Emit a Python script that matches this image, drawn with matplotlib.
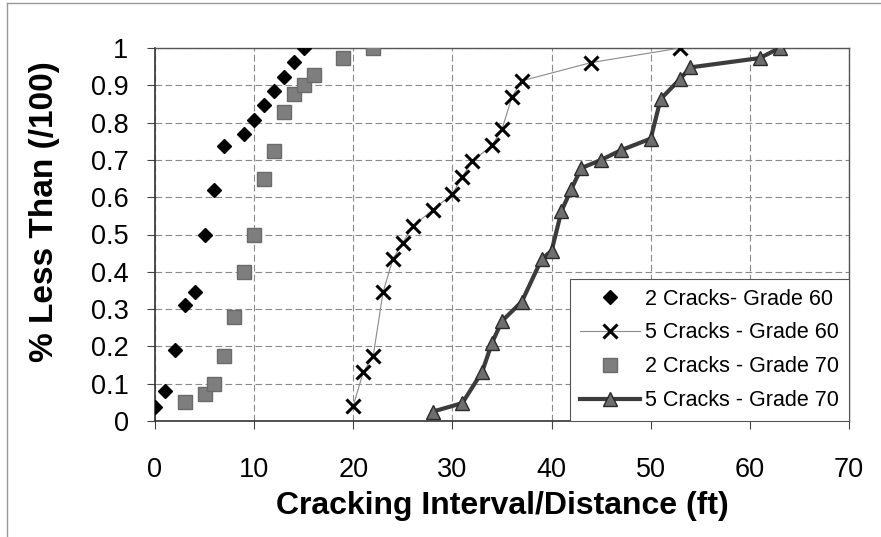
import matplotlib
matplotlib.use("Agg")
import matplotlib.pyplot as plt
from matplotlib.lines import Line2D

plt.rcParams['font.family'] = ['Liberation Sans', 'DejaVu Sans']

# --- data ---
g60_2_x = [0, 1, 2, 3, 4, 5, 6, 7, 9, 10, 11, 12, 13, 14, 15]
g60_2_y = [0.037, 0.08, 0.19, 0.31, 0.345, 0.50, 0.618, 0.736, 0.77, 0.806,
           0.847, 0.885, 0.921, 0.963, 1.0]

g60_5_x = [20, 21, 22, 23, 24, 25, 26, 28, 30, 31, 32, 34, 35, 36, 37, 44, 53]
g60_5_y = [0.041, 0.131, 0.173, 0.345, 0.435, 0.478, 0.522, 0.566, 0.608,
           0.655, 0.697, 0.739, 0.782, 0.869, 0.912, 0.961, 1.0]

g70_2_x = [3, 5, 6, 7, 8, 9, 10, 11, 12, 13, 14, 15, 16, 19, 22]
g70_2_y = [0.052, 0.073, 0.10, 0.173, 0.279, 0.399, 0.498, 0.65, 0.723,
           0.829, 0.876, 0.90, 0.927, 0.974, 1.0]

g70_5_x = [28, 31, 33, 34, 35, 37, 39, 40, 41, 42, 43, 45, 47, 50, 51, 53, 54, 61, 63]
g70_5_y = [0.025, 0.048, 0.132, 0.21, 0.268, 0.32, 0.434, 0.456, 0.563, 0.622,
           0.678, 0.70, 0.726, 0.757, 0.863, 0.918, 0.948, 0.973, 1.0]

labels = ["2 Cracks- Grade 60", "5 Cracks - Grade 60",
          "2 Cracks - Grade 70", "5 Cracks - Grade 70"]
x_ticks = [0, 10, 20, 30, 40, 50, 60, 70]
y_ticks = [0, 0.1, 0.2, 0.3, 0.4, 0.5, 0.6, 0.7, 0.8, 0.9, 1.0]
y_ticklabels = ["0", "0.1", "0.2", "0.3", "0.4", "0.5", "0.6", "0.7", "0.8", "0.9", "1"]

fig = plt.figure(figsize=(8.81, 5.37), dpi=100)
ax = fig.add_axes([155/881, 1 - 421/537, (849-155)/881, (421-48)/537])

ax.plot(g60_2_x, g60_2_y, linestyle='none', marker='D', ms=7.5,
        color='black', label=labels[0], zorder=4)
ax.plot(g60_5_x, g60_5_y, linestyle='-', lw=0.8, color='#8a8a8a', marker='x',
        ms=10, mew=2.2, mec='black', label=labels[1], zorder=4)
ax.plot(g70_2_x, g70_2_y, linestyle='none', marker='s', ms=10.5,
        color='#7e7e7e', mec='#6a6a6a', label=labels[2], zorder=4)
ax.plot(g70_5_x, g70_5_y, linestyle='-', lw=3, color='#3c3c3c', marker='^',
        ms=9.5, mfc='#6e6e6e', mec='#2a2a2a', mew=1.0, label=labels[3], zorder=5)

ax.set_xlim(0, 70)
ax.set_ylim(0, 1.0)
ax.set_xticks(x_ticks)
ax.set_xticklabels([str(v) for v in x_ticks])
ax.set_yticks(y_ticks)
ax.set_yticklabels(y_ticklabels)
ax.tick_params(axis='both', direction='out', length=6, width=0.8, color='#444',
               labelsize=19.5)
ax.tick_params(axis='x', pad=20)
ax.tick_params(axis='y', pad=13)

ax.grid(True, which='major', color='#8a8a8a', linestyle=(0, (6, 3)), lw=0.8)
ax.set_axisbelow(True)
for side in ['left', 'bottom']:
    ax.spines[side].set_color('#333')
    ax.spines[side].set_linewidth(1.2)
for side in ['top', 'right']:
    ax.spines[side].set_color('#555')
    ax.spines[side].set_linewidth(1.0)
    ax.spines[side].set_linestyle((0, (2, 1)))

ax.set_xlabel("Cracking Interval/Distance (ft)", fontsize=23, fontweight='bold',
              labelpad=6)
ax.set_ylabel("% Less Than (/100)", fontsize=24, fontweight='bold')
ax.yaxis.set_label_coords(-0.137, 0.56)

leg = ax.legend(loc='lower right', fontsize=15.5, frameon=True, fancybox=False,
                borderaxespad=0, handlelength=2.8, handletextpad=0.25,
                labelspacing=0.6, borderpad=0.45)
leg.get_frame().set_edgecolor('#555')
leg.get_frame().set_linewidth(0.8)
leg.get_frame().set_facecolor('white')
leg.get_frame().set_alpha(1)

# figure border (top and left)
fig.add_artist(Line2D([7/881, 1], [1 - 3/537, 1 - 3/537], color='#999', lw=1.0,
                      transform=fig.transFigure))
fig.add_artist(Line2D([7/881, 7/881], [0, 1 - 3/537], color='#999', lw=1.0,
                      transform=fig.transFigure))

fig.savefig("out.png", dpi=100, facecolor='white')
